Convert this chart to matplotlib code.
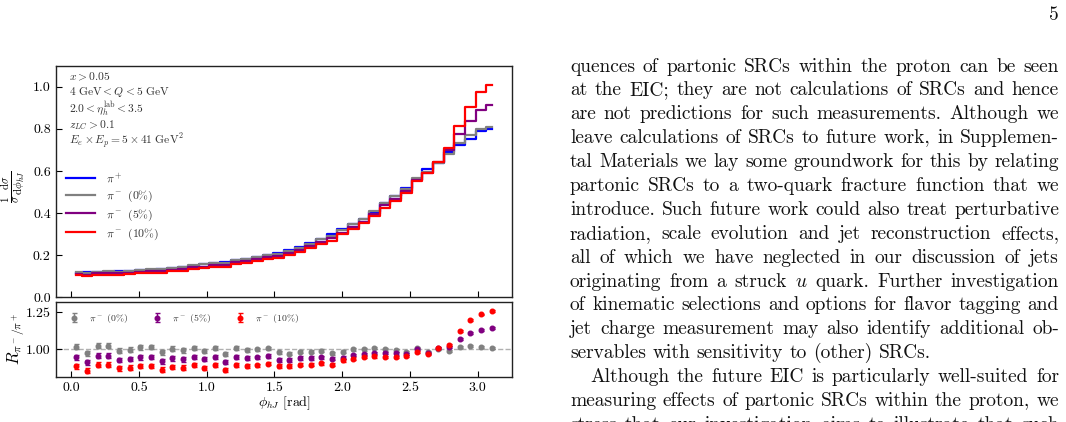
import matplotlib
matplotlib.use("Agg")
import matplotlib.pyplot as plt
import numpy as np

plt.rcParams['font.family'] = ['cmr10', 'DejaVu Serif']
plt.rcParams['mathtext.fontset'] = 'cm'
plt.rcParams['axes.formatter.use_mathtext'] = True
plt.rcParams['axes.unicode_minus'] = False

# ---------------- data ----------------
n_bins = 40
phi_min, phi_max = 0.0, np.pi

pi_plus = [0.117, 0.118, 0.119, 0.121, 0.123, 0.125, 0.128, 0.132, 0.136, 0.140,
           0.145, 0.151, 0.157, 0.163, 0.170, 0.177, 0.184, 0.192, 0.200, 0.210,
           0.227, 0.240, 0.259, 0.278, 0.300, 0.325, 0.347, 0.373, 0.406, 0.448,
           0.482, 0.521, 0.559, 0.607, 0.638, 0.689, 0.725, 0.753, 0.788, 0.801]
pi_minus_0 = [0.119, 0.115, 0.122, 0.124, 0.122, 0.125, 0.130, 0.134, 0.133, 0.141,
              0.144, 0.152, 0.156, 0.164, 0.164, 0.178, 0.184, 0.192, 0.201, 0.206,
              0.220, 0.236, 0.255, 0.275, 0.293, 0.320, 0.347, 0.373, 0.409, 0.448,
              0.479, 0.513, 0.565, 0.595, 0.639, 0.681, 0.735, 0.770, 0.799, 0.810]
pi_minus_5 = [0.111, 0.108, 0.114, 0.116, 0.114, 0.117, 0.121, 0.125, 0.125, 0.131,
              0.135, 0.143, 0.146, 0.155, 0.155, 0.167, 0.173, 0.182, 0.191, 0.195,
              0.211, 0.226, 0.244, 0.264, 0.281, 0.307, 0.334, 0.360, 0.395, 0.437,
              0.469, 0.504, 0.559, 0.591, 0.644, 0.701, 0.776, 0.838, 0.891, 0.915]
pi_minus_10 = [0.104, 0.101, 0.107, 0.108, 0.107, 0.110, 0.114, 0.117, 0.117, 0.123,
               0.127, 0.135, 0.137, 0.145, 0.146, 0.158, 0.164, 0.171, 0.181, 0.186,
               0.201, 0.215, 0.232, 0.252, 0.269, 0.301, 0.325, 0.354, 0.387, 0.426,
               0.458, 0.497, 0.550, 0.588, 0.644, 0.709, 0.813, 0.902, 0.974, 1.010]

ratio_0 = [1.018, 0.973, 1.025, 1.025, 0.991, 0.998, 1.014, 1.016, 0.980, 1.005,
           0.993, 1.007, 0.991, 1.007, 0.966, 1.007, 0.998, 1.000, 1.007, 0.980,
           0.971, 0.984, 0.984, 0.991, 0.975, 0.984, 1.000, 1.000, 1.007, 1.000,
           0.993, 0.984, 1.011, 0.980, 1.002, 0.989, 1.014, 1.023, 1.014, 1.011]
ratio_5 = [0.948, 0.912, 0.957, 0.957, 0.928, 0.935, 0.946, 0.948, 0.919, 0.939,
           0.932, 0.948, 0.932, 0.948, 0.912, 0.946, 0.942, 0.946, 0.955, 0.928,
           0.928, 0.941, 0.941, 0.948, 0.935, 0.944, 0.962, 0.966, 0.974, 0.975,
           0.973, 0.968, 1.000, 0.973, 1.009, 1.018, 1.070, 1.113, 1.131, 1.142]
ratio_10 = [0.887, 0.856, 0.896, 0.896, 0.872, 0.876, 0.887, 0.887, 0.863, 0.881,
            0.876, 0.892, 0.874, 0.892, 0.860, 0.892, 0.890, 0.892, 0.903, 0.887,
            0.887, 0.896, 0.896, 0.905, 0.896, 0.926, 0.937, 0.950, 0.952, 0.950,
            0.950, 0.953, 0.984, 0.968, 1.009, 1.029, 1.122, 1.198, 1.236, 1.261]
ratio_err = [0.017, 0.017, 0.017, 0.017, 0.016, 0.016, 0.016, 0.016, 0.015, 0.015,
             0.015, 0.014, 0.014, 0.014, 0.013, 0.013, 0.013, 0.012, 0.012, 0.012,
             0.011, 0.011, 0.011, 0.010, 0.010, 0.009, 0.009, 0.009, 0.008, 0.008,
             0.008, 0.007, 0.007, 0.007, 0.007, 0.006, 0.006, 0.006, 0.006, 0.006]

labels = [r'$\pi^+$', r'$\pi^-$ (0%)', r'$\pi^-$ (5%)', r'$\pi^-$ (10%)']
colors = ['#0000ff', '#808080', '#800080', '#ff0000']

cuts = [r'$x > 0.05$',
        r'$4\ \mathrm{GeV} < Q < 5\ \mathrm{GeV}$',
        r'$2.0 < \eta_h^{\mathrm{lab}} < 3.5$',
        r'$z_{LC} > 0.1$',
        r'$E_e \times E_p = 5 \times 41\ \mathrm{GeV}^2$']

main_yticks = [0.0, 0.2, 0.4, 0.6, 0.8, 1.0]
ratio_yticks = [1.00, 1.25]
xticks = [0.0, 0.5, 1.0, 1.5, 2.0, 2.5, 3.0]

body_lines = [
    ("quences of partonic SRCs within the proton can be seen", True, False),
    ("at the EIC; they are not calculations of SRCs and hence", True, False),
    ("are not predictions for such measurements. Although we", True, False),
    ("leave calculations of SRCs to future work, in Supplemen-", True, False),
    ("tal Materials we lay some groundwork for this by relating", True, False),
    ("partonic SRCs to a two-quark fracture function that we", True, False),
    ("introduce. Such future work could also treat perturbative", True, False),
    ("radiation, scale evolution and jet reconstruction effects,", True, False),
    ("all of which we have neglected in our discussion of jets", True, False),
    ("originating from a struck $u$ quark. Further investigation", True, False),
    ("of kinematic selections and options for flavor tagging and", True, False),
    ("jet charge measurement may also identify additional ob-", True, False),
    ("servables with sensitivity to (other) SRCs.", False, False),
    ("Although the future EIC is particularly well-suited for", True, True),
    ("measuring effects of partonic SRCs within the proton, we", True, False),
    ("stress that our investigation aims to illustrate that such", True, False),
]
page_number = "5"

# ---------------- figure ----------------
W, H = 1066, 422
fig = plt.figure(figsize=(W / 100, H / 100), dpi=100)

def frac_rect(l, t, r, b):
    return [l / W, 1 - b / H, (r - l) / W, (b - t) / H]

ax1 = fig.add_axes(frac_rect(55.7, 65.7, 512.3, 297.3))
ax2 = fig.add_axes(frac_rect(55.7, 302.3, 512.3, 377.0), sharex=ax1)

edges = np.linspace(phi_min, phi_max, n_bins + 1)
centers = 0.5 * (edges[:-1] + edges[1:])

for vals, c, lab in zip([pi_plus, pi_minus_0, pi_minus_5, pi_minus_10], colors, labels):
    ax1.step(centers, vals, where='mid', color=c, lw=1.6, label=lab)

ax1.set_ylim(0, 1.1)
ax1.set_yticks(main_yticks)
ax1.yaxis.set_major_formatter(matplotlib.ticker.FormatStrFormatter('%.1f'))
ax1.tick_params(axis='both', direction='in', length=4, width=0.8, labelsize=10)
ax1.tick_params(axis='x', labelbottom=False)
ax1.set_ylabel(r'$\frac{1}{\sigma}\frac{\mathrm{d}\sigma}{\mathrm{d}\phi_{hJ}}$', fontsize=11.5)
ax1.yaxis.set_label_coords(-0.062, 0.476)

ys = [0.9525, 0.886, 0.8145, 0.744, 0.675]
for s, y in zip(cuts, ys):
    ax1.text(0.030, y, s, transform=ax1.transAxes, fontsize=8.3, color='#333333', va='center', ha='left')

leg = ax1.legend(loc='upper left', bbox_to_anchor=(0.022, 0.545), frameon=False,
                 fontsize=8.5, handlelength=2.5, handletextpad=0.9, labelspacing=0.3,
                 borderpad=0, borderaxespad=0)
for t in leg.get_texts():
    t.set_color('#333333')

# ratio panel
ax2.axhline(1.0, color='#b0b0b0', lw=1.0, ls='--', zorder=0)
for r, c, lab in zip([ratio_0, ratio_5, ratio_10], colors[1:], labels[1:]):
    ax2.errorbar(centers, r, yerr=ratio_err, fmt='o', color=c, ms=3.3, elinewidth=1.0,
                 capsize=1.8, capthick=1.0, label=lab)
ax2.set_ylim(0.813, 1.318)
ax2.set_yticks(ratio_yticks)
ax2.yaxis.set_major_formatter(matplotlib.ticker.FormatStrFormatter('%.2f'))
ax2.set_xticks(xticks)
ax2.xaxis.set_major_formatter(matplotlib.ticker.FormatStrFormatter('%.1f'))
ax2.tick_params(axis='both', direction='in', length=4, width=0.8, labelsize=10)
ax2.set_xlabel(r'$\phi_{hJ}$ [rad]', fontsize=10, labelpad=0)
ax2.set_ylabel(r'$R_{\pi^-/\pi^+}$', fontsize=12)
ax2.yaxis.set_label_coords(-0.062, 0.52)
leg2 = ax2.legend(loc='upper left', bbox_to_anchor=(0.027, 0.87), ncol=3, frameon=False,
                  fontsize=7, handlelength=1.2, handletextpad=1.0, columnspacing=2.3,
                  borderpad=0, borderaxespad=0)
for t in leg2.get_texts():
    t.set_color('#333333')

for ax in (ax1, ax2):
    for sp in ax.spines.values():
        sp.set_linewidth(1.0)
        sp.set_color('#222222')

# ---------------- body text (justified) ----------------
renderer = fig.canvas.get_renderer()
body_size = 14.0
x_left, x_right = 570.0, 1059.0
base0, lead = 71.5, 23.9
indent = 20.0

def place_line(text, justify, ind, ybase):
    words = text.split(' ')
    objs = []
    widths = []
    for w in words:
        t = fig.text(0, 1 - ybase / H, w, fontsize=body_size, va='baseline', ha='left', color='#111111')
        widths.append(t.get_window_extent(renderer).width)
        objs.append(t)
    x0 = x_left + (indent if ind else 0)
    if justify and len(words) > 1:
        gap = (x_right - x0 - sum(widths)) / (len(words) - 1)
    else:
        gap = body_size * 100 / 72 * 0.333
    x = x0
    for t, w in zip(objs, widths):
        t.set_x(x / W)
        x += w + gap

for i, (txt, just, ind) in enumerate(body_lines):
    place_line(txt, just, ind, base0 + i * lead)

fig.text(1059 / W, 1 - 20 / H, page_number, fontsize=body_size, ha='right', va='baseline', color='#111111')

fig.savefig('out.png', dpi=100)
